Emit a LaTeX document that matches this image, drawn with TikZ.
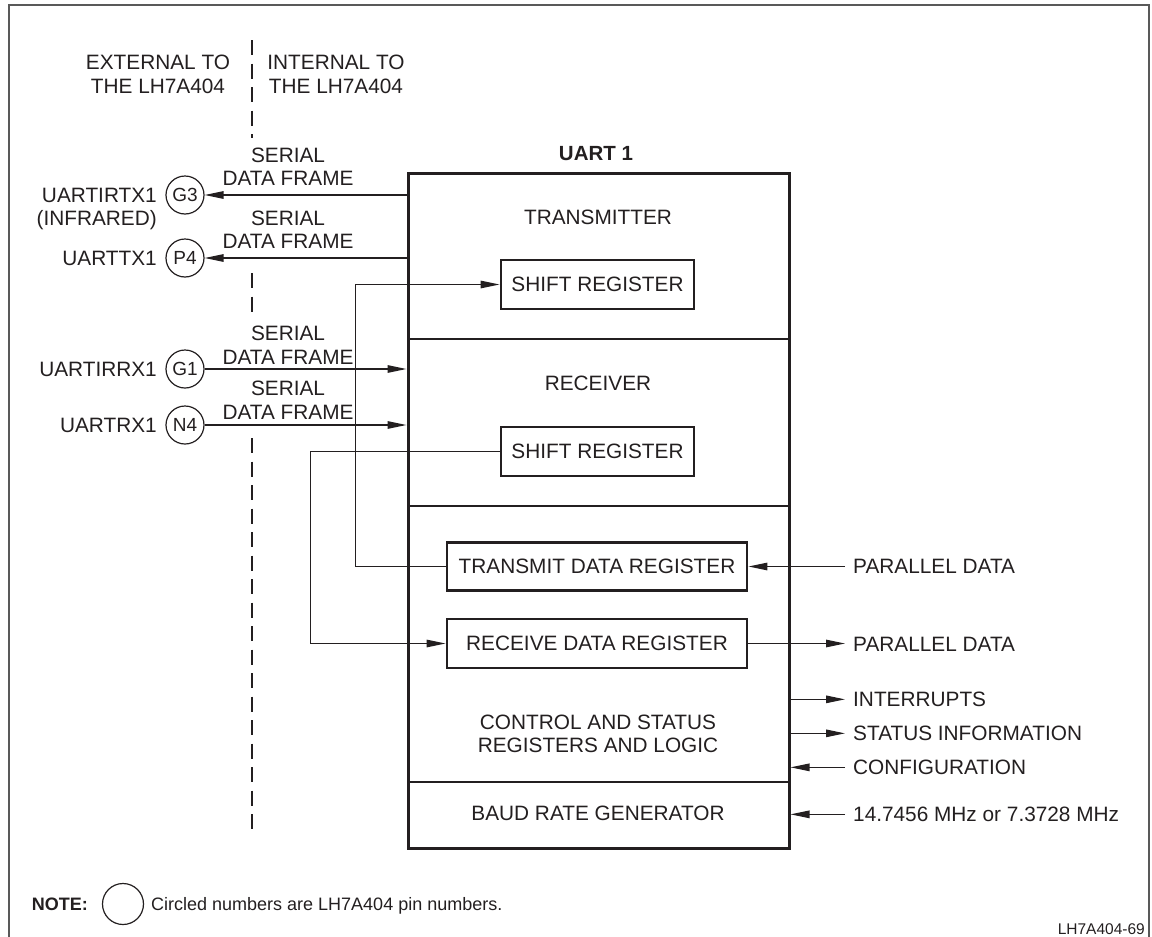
\documentclass[tikz,border=0pt]{standalone}
\usepackage{fontspec}
\setmainfont{Liberation Sans}
\usetikzlibrary{arrows.meta}
\definecolor{ink}{HTML}{231F20}
\begin{document}
\begin{tikzpicture}[x=1pt,y=-1pt,
  every node/.style={inner sep=0pt, text=ink},
  lbl/.style={font=\fontsize{20.8}{24}\selectfont},
  blbl/.style={font=\fontsize{20.5}{24}\selectfont\bfseries},
  notelbl/.style={font=\fontsize{18}{22}\selectfont},
  conn/.style={line width=1.3pt, draw=ink},
  arr/.style={conn, -{Triangle[length=19pt,width=7.5pt]}},
  regbox/.style={draw=ink, line width=2.8pt, rectangle, lbl},
  pinc/.style={draw=ink, line width=1.2pt, circle, minimum size=38pt, font=\fontsize{19}{22}\selectfont},
  dashln/.style={draw=ink, line width=2.6pt, dash pattern=on 15pt off 8.5pt},
]
\useasboundingbox (0,0) rectangle (1152,937);
\clip (0,0) rectangle (1152,937);

% outer frame
\draw[draw=black!65, line width=1.4pt] (9,950) -- (9,5) -- (1149,5) -- (1149,950);

% boundary dashed line
\draw[dashln] (252,40) -- (252,138);
\draw[dashln] (252,273) -- (252,312);
\draw[dashln] (252,438) -- (252,829);

% headings
\node[lbl, anchor=base] (ext1) at (158,69.5) {EXTERNAL TO};
\node[lbl, anchor=base] (ext2) at (158,93.5) {THE LH7A404};
\node[lbl, anchor=base] (int1) at (336,69.5) {INTERNAL TO};
\node[lbl, anchor=base] (int2) at (336,93.5) {THE LH7A404};

% UART box
\node[blbl, anchor=base] (uarttitle) at (596,160.5) {UART 1};
\node[draw=ink, line width=3pt, minimum width=381pt, minimum height=675pt] (uart) at (598.5,510.5) {};
\draw[conn] (408,339) -- (789,339);
\draw[conn] (408,506) -- (789,506);
\draw[conn] (408,782) -- (789,782);

\node[lbl, anchor=base] (txl) at (598,224.5) {TRANSMITTER};
\node[lbl, anchor=base] (rxl) at (598,390.5) {RECEIVER};
\node[lbl, anchor=base] (csl1) at (598,729.5) {CONTROL AND STATUS};
\node[lbl, anchor=base] (csl2) at (598,752.5) {REGISTERS AND LOGIC};
\node[lbl, anchor=base] (baud) at (598,820.5) {BAUD RATE GENERATOR};

\node[regbox, minimum width=193pt, minimum height=49pt] (sr1) at (597.5,284.5) {SHIFT REGISTER};
\node[regbox, minimum width=193pt, minimum height=49pt] (sr2) at (597.5,451.5) {SHIFT REGISTER};
\node[regbox, minimum width=300pt, minimum height=48pt] (tdr) at (597,566.5) {TRANSMIT DATA REGISTER};
\node[regbox, minimum width=300pt, minimum height=49pt] (rdr) at (597,643.5) {RECEIVE DATA REGISTER};

% pins
\node[pinc] (g3) at (185,195) {G3};
\node[pinc] (p4) at (185,258) {P4};
\node[pinc] (g1) at (185,369) {G1};
\node[pinc] (n4) at (185,425) {N4};

\node[lbl, anchor=base east] (lg3) at (157,202.5) {UARTIRTX1};
\node[lbl, anchor=base east] (lg3b) at (157,225.5) {(INFRARED)};
\node[lbl, anchor=base east] (lp4) at (157,265.5) {UARTTX1};
\node[lbl, anchor=base east] (lg1) at (157,376.5) {UARTIRRX1};
\node[lbl, anchor=base east] (ln4) at (157,432.5) {UARTRX1};

% serial data frame labels
\node[lbl, anchor=base] (s1a) at (288,162.5) {SERIAL};
\node[lbl, anchor=base] (s1b) at (288,185.5) {DATA FRAME};
\node[lbl, anchor=base] (s2a) at (288,225.5) {SERIAL};
\node[lbl, anchor=base] (s2b) at (288,248.5) {DATA FRAME};
\node[lbl, anchor=base] (s3a) at (288,340.5) {SERIAL};
\node[lbl, anchor=base] (s3b) at (288,364.5) {DATA FRAME};
\node[lbl, anchor=base] (s4a) at (288,395.5) {SERIAL};
\node[lbl, anchor=base] (s4b) at (288,419.5) {DATA FRAME};

\draw[arr] (uart.west |- g3) -- (g3);
\draw[arr] (uart.west |- p4) -- (p4);
\draw[arr] (g1) -- (uart.west |- g1);
\draw[arr] (n4) -- (uart.west |- n4);

% internal loops
\draw[arr] (tdr.west) -- ++(-90,0) |- (sr1.west);
\draw[arr] (sr2.west) -- ++(-189,0) |- (rdr.west);

% right side signals
\node[lbl, anchor=base west] (pd1) at (853,573.5) {PARALLEL DATA};
\node[lbl, anchor=base west] (pd2) at (853,651.5) {PARALLEL DATA};
\node[lbl, anchor=base west] (intr) at (853,706.5) {INTERRUPTS};
\node[lbl, anchor=base west] (stat) at (853,740.5) {STATUS INFORMATION};
\node[lbl, anchor=base west] (conf) at (853,774.5) {CONFIGURATION};
\node[lbl, anchor=base west] (clk) at (853,821.5) {14.7456 MHz or 7.3728 MHz};

\coordinate (pd1x) at ([xshift=-8pt]pd1.west);
\coordinate (pd2x) at ([xshift=-8pt]pd2.west);
\coordinate (intrx) at ([xshift=-8pt]intr.west);
\coordinate (statx) at ([xshift=-8pt]stat.west);
\coordinate (confx) at ([xshift=-8pt]conf.west);
\coordinate (clkx) at ([xshift=-8pt]clk.west);

\draw[arr] (pd1x |- tdr.east) -- (tdr.east);
\draw[arr] (rdr.east) -- (pd2x |- rdr.east);
\draw[arr] (uart.east |- intrx) -- (intrx);
\draw[arr] (uart.east |- statx) -- (statx);
\draw[arr] (confx) -- (uart.east |- confx);
\draw[arr] (clkx) -- (uart.east |- clkx);

% note
\node[font=\fontsize{18}{22}\selectfont\bfseries, anchor=base east] (note) at (88,910.5) {NOTE:};
\node[draw=ink, circle, line width=1.2pt, minimum size=41pt] (notec) at (123,904) {};
\node[notelbl, anchor=base west] (notet) at (151,910.5) {Circled numbers are LH7A404 pin numbers.};

\node[font=\fontsize{15.5}{18}\selectfont, anchor=base east] (fig) at (1145,934.6) {LH7A404-69};
\end{tikzpicture}
\end{document}
